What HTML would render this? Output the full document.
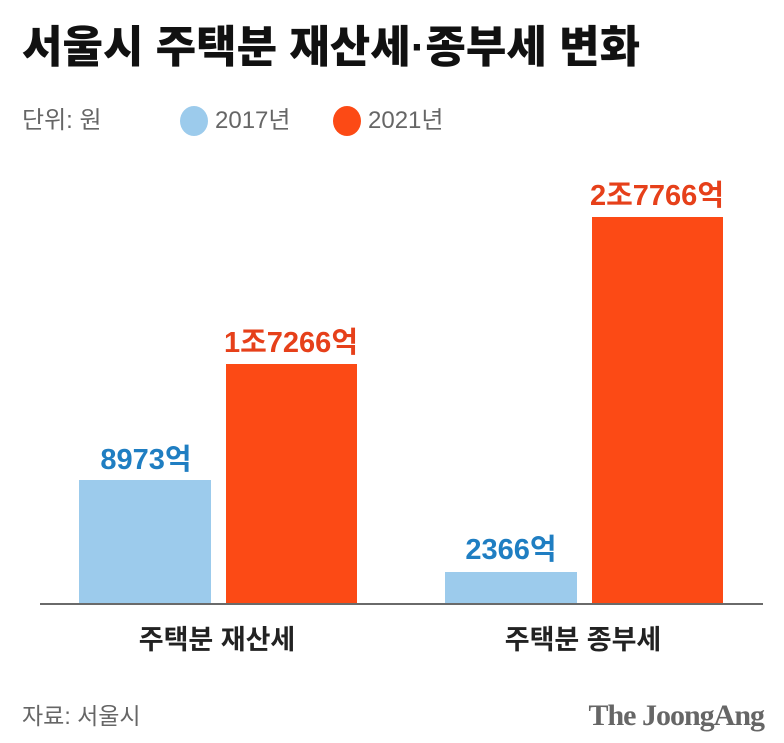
<!DOCTYPE html>
<html><head><meta charset="utf-8"><style>
body{margin:0;width:784px;height:743px;background:#fff;position:relative;overflow:hidden;font-family:"Liberation Sans","Noto Sans CJK KR",sans-serif}
.a{position:absolute;white-space:nowrap;line-height:1}
.bar{position:absolute}
.c{transform:translateX(-50%)}
</style></head><body>
<div class="a" style="left:22px;top:26px;font-size:44px;font-weight:900;color:#111;letter-spacing:0px">서울시 주택분 재산세·종부세 변화</div>
<div class="a" style="left:22px;top:109px;font-size:24px;color:#666;letter-spacing:0px">단위: 원</div>
<div class="a" style="left:180px;top:106px;width:28px;height:30px;border-radius:50%;background:#9ccbec"></div>
<div class="a" style="left:215px;top:109px;font-size:24px;color:#666;letter-spacing:0px">2017년</div>
<div class="a" style="left:333px;top:106px;width:28px;height:30px;border-radius:50%;background:#fc4a15"></div>
<div class="a" style="left:368px;top:109px;font-size:24px;color:#666;letter-spacing:0px">2021년</div>

<div class="bar" style="left:79px;top:480px;width:132px;height:124px;background:#9ccbec"></div>
<div class="bar" style="left:226px;top:364px;width:131px;height:240px;background:#fc4a15"></div>
<div class="bar" style="left:445px;top:572px;width:132px;height:32px;background:#9ccbec"></div>
<div class="bar" style="left:592px;top:217px;width:131px;height:387px;background:#fc4a15"></div>
<div class="bar" style="left:40px;top:603px;width:723px;height:2px;background:#6a6a6a"></div>

<div class="a c" style="left:146px;top:446px;font-size:29px;font-weight:bold;color:#1f7ec2">8973억</div>
<div class="a c" style="left:291px;top:329px;font-size:29px;font-weight:bold;color:#e6401a">1조7266억</div>
<div class="a c" style="left:511px;top:536px;font-size:29px;font-weight:bold;color:#1f7ec2">2366억</div>
<div class="a c" style="left:657px;top:182px;font-size:29px;font-weight:bold;color:#e6401a">2조7766억</div>

<div class="a c" style="left:217px;top:627px;font-size:27px;font-weight:bold;color:#222">주택분 재산세</div>
<div class="a c" style="left:583px;top:627px;font-size:27px;font-weight:bold;color:#222">주택분 종부세</div>

<div class="a" style="left:22px;top:705px;font-size:23px;color:#666">자료: 서울시</div>
<div class="a" style="right:20px;top:701px;font-size:30px;font-weight:bold;color:#666;font-family:'Liberation Serif',serif;letter-spacing:-1px">The JoongAng</div>
</body></html>
